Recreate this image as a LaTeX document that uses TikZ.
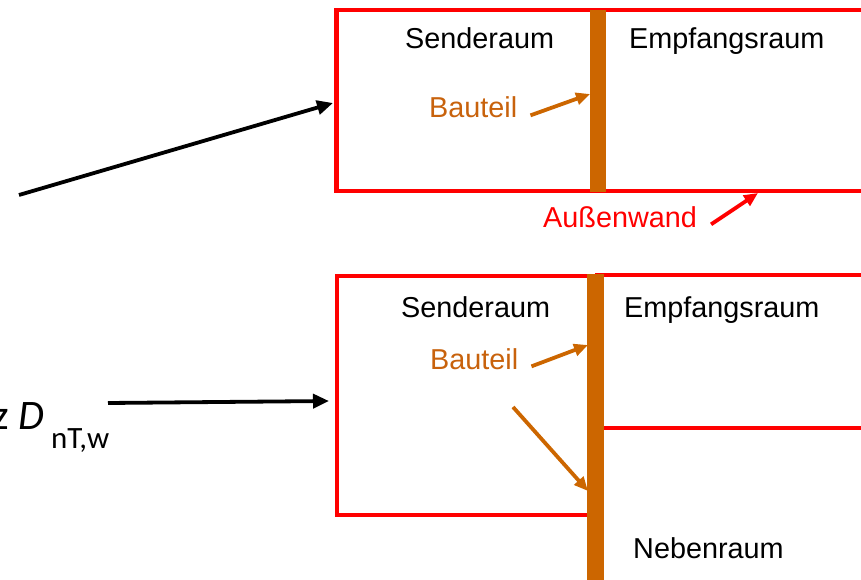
\documentclass[tikz,border=0pt]{standalone}
\usepackage{fontspec}
\setmainfont{Liberation Sans}
\newfontfamily\calibrifont{Carlito}
\usetikzlibrary{arrows.meta}
\definecolor{wallbrown}{HTML}{CC6600}
\definecolor{partbrown}{HTML}{C8620C}
\definecolor{wallred}{HTML}{FF0000}
\tikzset{
  label/.style={inner sep=0pt, anchor=base west, font=\fontsize{28.8}{30}\selectfont},
  roomline/.style={draw=wallred, line width=4.6pt},
  wallbar/.style={fill=wallbrown, draw=none},
  partarrow/.style={draw=wallbrown, line width=3.8pt, -{Triangle[length=14pt,width=12pt]}},
  redarrow/.style={draw=wallred, line width=3.8pt, -{Triangle[length=14pt,width=12pt]}},
  blackarrow/.style={draw=black, line width=3.8pt, -{Triangle[length=16pt,width=14pt]}}
}
\begin{document}
\begin{tikzpicture}[x=1pt, y=-1pt]
\useasboundingbox (0,0) rectangle (861,580);

% ---- upper case: rooms separated by the component, outer wall below ----
\draw[roomline] (336.5,10) rectangle (880,191);
\fill[wallbar] (590,10) rectangle (606,192);

\node[label] (s1) at (405,49) {Senderaum};
\node[label] (e1) at (629,49) {Empfangsraum};
\node[label, text=partbrown] (b1) at (429,118) {Bauteil};
\node[label, text=wallred] (aw) at (543,227) {Außenwand};

\coordinate (t1) at (590,94);
\coordinate (t2) at (758,193);
\draw[partarrow] ([xshift=13pt]b1.mid east) -- (t1);
\draw[redarrow] ([xshift=14pt]aw.mid east) -- (t2);

\coordinate (u0) at (19,195);
\coordinate (u1) at (333,103);
\draw[blackarrow] (u0) -- (u1);

% ---- lower case: receiving room and neighbouring room ----
\draw[roomline] (337,276) rectangle (595,515);
\draw[roomline] (595,275) -- (880,275);
\draw[roomline] (600,428) -- (880,428);
\draw[roomline] (595,582) -- (880,582);
\fill[wallbar] (587,274) rectangle (604,590);

\node[label] (s2) at (401,317) {Senderaum};
\node[label] (e2) at (624,317) {Empfangsraum};
\node[label, text=partbrown] (b2) at (430,369) {Bauteil};
\node[label] (nr) at (633,558) {Nebenraum};

\coordinate (t3) at (588,345);
\coordinate (f0) at (513,407);
\coordinate (t4) at (588,491);
\draw[partarrow] ([xshift=13pt]b2.mid east) -- (t3);
\draw[partarrow] (f0) -- (t4);

\node[inner sep=0pt, anchor=base west, font=\calibrifont\fontsize{42}{44}\selectfont] (dnt) at (-8,429)
  {z \textit{D}\hspace{7pt}\raisebox{-19pt}{\fontsize{31}{33}\selectfont nT,w}};
\coordinate (l0) at (108,403);
\coordinate (l1) at (329,401);
\draw[blackarrow] (l0) -- (l1);
\end{tikzpicture}
\end{document}
